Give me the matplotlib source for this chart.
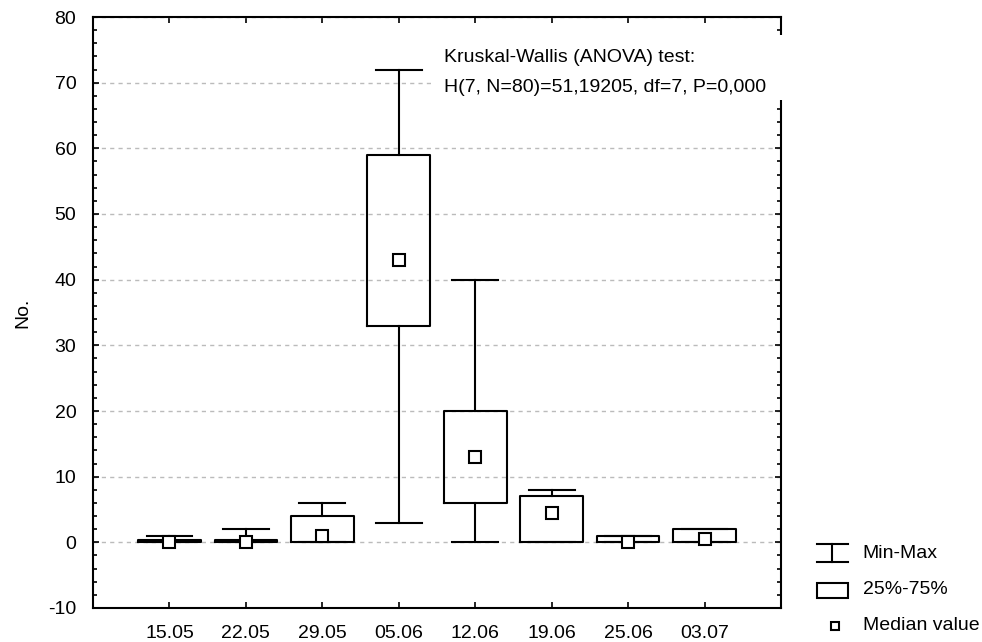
import matplotlib
matplotlib.use("Agg")
import matplotlib.pyplot as plt
from matplotlib.patches import Rectangle
import numpy as np

plt.rcParams['font.family'] = ['Liberation Sans', 'DejaVu Sans']
plt.rcParams['axes.unicode_minus'] = False

# data
dates = ['15.05', '22.05', '29.05', '05.06', '12.06', '19.06', '25.06', '03.07']
mins = [0, 0, 0, 3, 0, 0, 0, 0]
q1 = [0, 0, 0, 33, 6, 0, 0, 0]
medians = [0, 0, 1, 43, 13, 4.5, 0, 0.5]
q3 = [0.3, 0.3, 4, 59, 20, 7, 1, 2]
maxs = [1, 2, 6, 72, 40, 8, 1, 2]

fs = 14
fig = plt.figure(figsize=(9.82, 6.42), dpi=100)
ax = fig.add_axes([93 / 982, 1 - 608 / 642, 688 / 982, 591 / 642])

x = np.arange(1, len(dates) + 1)
stats = [dict(med=m, q1=a, q3=b, whislo=lo, whishi=hi, label=d)
         for d, lo, a, m, b, hi in zip(dates, mins, q1, medians, q3, maxs)]
lw = 1.5
ax.bxp(stats, positions=x, widths=0.82, capwidths=0.6, showfliers=False,
       boxprops=dict(linewidth=lw, color='black'),
       whiskerprops=dict(linewidth=lw, color='black'),
       capprops=dict(linewidth=lw, color='black'),
       medianprops=dict(linewidth=0), manage_ticks=False, zorder=3)
ax.plot(x, medians, 's', markersize=8, markerfacecolor='white',
        markeredgecolor='black', markeredgewidth=1.5, zorder=4)

ax.set_xlim(0, 9)
ax.set_ylim(-10, 80)
ax.set_xticks(x)
ax.set_xticklabels(dates)
ax.set_yticks(np.arange(-10, 81, 10))
ax.set_yticks(np.arange(-10, 81, 2), minor=True)
ax.tick_params(axis='both', which='major', direction='in', length=4, width=1.2,
               labelsize=fs, top=True, right=True, pad=12)
ax.tick_params(axis='y', which='minor', direction='in', length=3, width=1.2,
               right=True)
ax.tick_params(axis='x', pad=12)
ax.grid(axis='y', which='major', linestyle=(0, (3, 3)), color='#bbbbbb',
        linewidth=1)
ax.set_axisbelow(True)
for s in ax.spines.values():
    s.set_linewidth(1.5)
ax.set_ylabel('No.', fontsize=fs, labelpad=12)

# annotation box
ax.add_patch(Rectangle((0.494, 0.860), 0.513, 0.1095, transform=ax.transAxes,
                       facecolor='white', edgecolor='none', clip_on=False,
                       zorder=5))
ax.text(0.510, 0.931, 'Kruskal-Wallis (ANOVA) test:', transform=ax.transAxes,
        fontsize=fs, va='center', ha='left', zorder=6)
ax.text(0.510, 0.881, 'H(7, N=80)=51,19205, df=7, P=0,000',
        transform=ax.transAxes, fontsize=fs, va='center', ha='left', zorder=6)

# legend
t = ax.transAxes
ax.plot([1.052, 1.097], [0.1083, 0.1083], color='black', lw=lw, transform=t, clip_on=False)
ax.plot([1.052, 1.097], [0.0778, 0.0778], color='black', lw=lw, transform=t, clip_on=False)
ax.plot([1.0745, 1.0745], [0.0778, 0.1083], color='black', lw=lw, transform=t, clip_on=False)
ax.add_patch(Rectangle((1.052, 0.0169), 0.045, 0.0254, transform=t,
                       facecolor='white', edgecolor='black', lw=lw, clip_on=False))
ax.plot([1.0785], [-0.0305], 's', markersize=5.5, markerfacecolor='white',
        markeredgecolor='black', markeredgewidth=1.5, transform=t, clip_on=False)
ax.text(1.119, 0.093, 'Min-Max', transform=t, fontsize=fs, va='center')
ax.text(1.119, 0.0305, '25%-75%', transform=t, fontsize=fs, va='center')
ax.text(1.119, -0.0288, 'Median value', transform=t, fontsize=fs, va='center')

fig.savefig('out.png', dpi=100)
